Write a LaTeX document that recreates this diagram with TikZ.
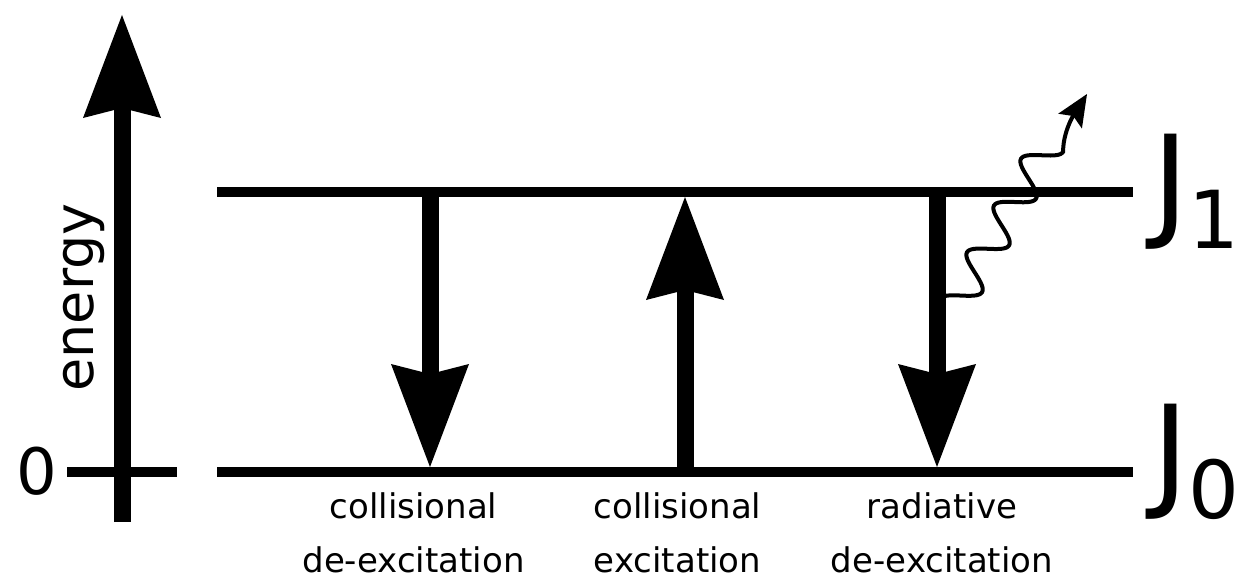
\documentclass[tikz,border=0pt]{standalone}
\usepackage{fontspec}
\setmainfont{DejaVu Sans}
\usetikzlibrary{arrows.meta}
\tikzset{
  level/.style={line width=5pt},
  bigarrow/.style={line width=8.5pt,
    -{Stealth[length=51.5pt, width=39pt, inset=5pt, line width=0pt]}},
  photon/.style={line width=2pt, line cap=round,
    -{Stealth[length=16pt, width=14pt, inset=3pt, line width=0pt]}},
  proclabel/.style={font=\fontsize{17pt}{27pt}\selectfont, align=center,
    inner sep=0pt, anchor=base, text depth=0pt},
  statelabel/.style={anchor=base west, inner sep=0pt},
}
\newcommand{\statename}[1]{{\fontsize{62pt}{62pt}\selectfont J}\raisebox{-12pt}{\fontsize{40pt}{40pt}\selectfont #1}}
\begin{document}
\begin{tikzpicture}[x=0.5pt, y=0.5pt]
\useasboundingbox (0,0) rectangle (1241,580);

% energy axis with its zero tick
\coordinate (Ebot) at (122,58);
\coordinate (Etop) at (122,565);
\coordinate (T0l) at (67,108);
\coordinate (T0r) at (177,108);
\draw[level] (T0l) -- (T0r);
\draw[bigarrow] (Ebot) -- (Etop);
\node[font=\fontsize{27pt}{27pt}\selectfont, rotate=90, anchor=base, inner sep=0pt]
  (energy) at (93,282.5) {energy};
\node[font=\fontsize{32pt}{32pt}\selectfont, inner sep=0pt] (zero) at (36.5,108.5) {0};

% the two levels
\coordinate (L1a) at (217,388);
\coordinate (L1b) at (1133,388);
\coordinate (L0a) at (217,108);
\coordinate (L0b) at (1133,108);
\draw[level] (L1a) -- (L1b);
\draw[level] (L0a) -- (L0b);
\node[statelabel] (J1) at (1152,356) {\statename{1}};
\node[statelabel] (J0) at (1152,86) {\statename{0}};

% transitions
\coordinate (cdTop) at (430,388);
\coordinate (cdBot) at (430,108);
\coordinate (ceTop) at (685,388);
\coordinate (ceBot) at (685,108);
\coordinate (rdTop) at (937,388);
\coordinate (rdBot) at (937,108);
\draw[bigarrow, shorten >=2.5pt] (cdTop) -- (cdBot);
\draw[bigarrow, shorten >=2.5pt] (ceBot) -- (ceTop);
\draw[bigarrow, shorten >=2.5pt] (rdTop) -- (rdBot);

% emitted photon: a sine wave along a 60 degree axis, then a short tail
\coordinate (w0) at (940,281);
\coordinate (wtip) at (1087,486);
\draw[photon, shift={(w0)}, rotate=60]
  plot[domain=0:189, samples=120, smooth] (\x, {16.5*cos(6.66667*\x)-16.5})
  .. controls +(30:25) and +(178:14) .. (wtip);

% process labels (anchored on the baseline of their second line)
\node[proclabel] (lab1) at (413.5,8) {collisional\\de-excitation};
\node[proclabel] (lab2) at (677.5,8) {collisional\\excitation};
\node[proclabel] (lab3) at (942,8) {radiative\\de-excitation};
\end{tikzpicture}
\end{document}
